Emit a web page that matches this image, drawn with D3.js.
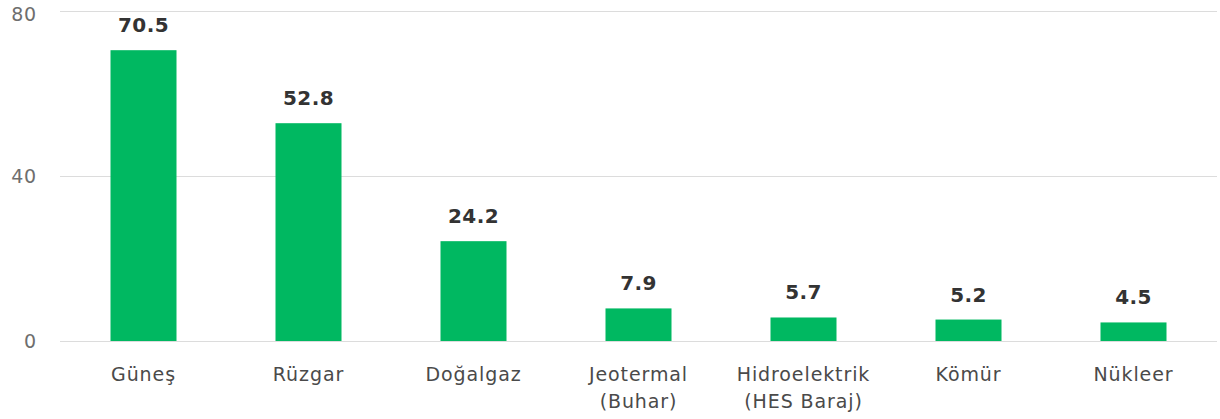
<!DOCTYPE html>
<html>
<head>
<meta charset="utf-8">
<script src="https://cdn.jsdelivr.net/npm/d3@7"></script>
<style>
  body { margin: 0; background: #fff; }
  svg { display: block; font-family: "DejaVu Sans", sans-serif; }
</style>
</head>
<body>
<svg id="chart" width="1220" height="419"></svg>
<script>
var categories = [["Güneş"], ["Rüzgar"], ["Doğalgaz"], ["Jeotermal", "(Buhar)"],
                  ["Hidroelektrik", "(HES Baraj)"], ["Kömür"], ["Nükleer"]];
var values = [70.5, 52.8, 24.2, 7.9, 5.7, 5.2, 4.5];
var yTicks = [0, 40, 80];

var svg = d3.select("#chart");

var x = d3.scaleBand()
    .domain(d3.range(values.length))
    .range([61, 1216])
    .paddingInner(0.6)
    .paddingOuter(0.3);

var y = d3.scaleLinear()
    .domain([0, 80])
    .range([341, 11]);

// gridlines + y labels
var grid = svg.append("g");
grid.selectAll("line")
    .data(yTicks)
    .enter().append("line")
    .attr("x1", 60)
    .attr("x2", 1217)
    .attr("y1", function (d) { return y(d) + 0.5; })
    .attr("y2", function (d) { return y(d) + 0.5; })
    .attr("stroke", "#dcdcdc")
    .attr("stroke-width", 1);

grid.selectAll("text")
    .data(yTicks)
    .enter().append("text")
    .attr("x", 37)
    .attr("y", function (d) { return Math.max(y(d), 14); })
    .attr("dy", "0.36em")
    .attr("text-anchor", "end")
    .attr("fill", "#6e6e6e")
    .style("font-size", "19px")
    .style("letter-spacing", "0.8px")
    .text(function (d) { return d; });

// bars
svg.append("g").selectAll("rect")
    .data(values)
    .enter().append("rect")
    .attr("x", function (d, i) { return x(i); })
    .attr("y", function (d) { return y(d); })
    .attr("width", x.bandwidth())
    .attr("height", function (d) { return y(0) - y(d); })
    .attr("fill", "#00b861");

// value labels
svg.append("g").selectAll("text")
    .data(values)
    .enter().append("text")
    .attr("x", function (d, i) { return x(i) + x.bandwidth() / 2; })
    .attr("y", function (d) { return y(d) - 18; })
    .attr("text-anchor", "middle")
    .attr("fill", "#333")
    .style("font-size", "20px")
    .style("font-weight", "bold")
    .style("letter-spacing", "0.4px")
    .text(function (d) { return d.toFixed(1); });

// category labels
svg.append("g").selectAll("text")
    .data(categories)
    .enter().append("text")
    .attr("text-anchor", "middle")
    .attr("fill", "#4a4a4a")
    .style("font-size", "19px")
    .style("letter-spacing", "0.9px")
    .each(function (lines, i) {
        var t = d3.select(this);
        lines.forEach(function (s, j) {
            t.append("tspan")
                .attr("x", x(i) + x.bandwidth() / 2)
                .attr("y", 381 + j * 27)
                .text(s);
        });
    });
</script>
</body>
</html>
